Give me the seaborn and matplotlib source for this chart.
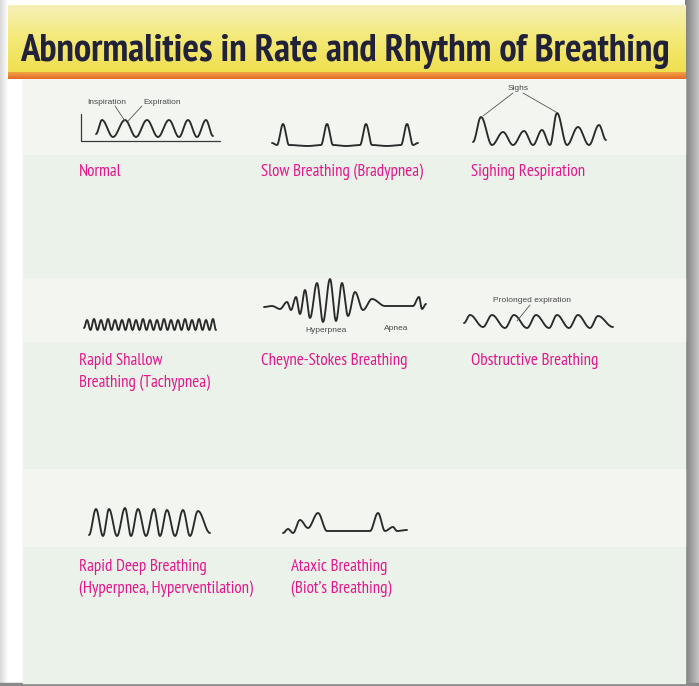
import numpy as np
import pandas as pd
import matplotlib
matplotlib.use("Agg")
import matplotlib.pyplot as plt
import seaborn as sns

sns.set_theme(style="white")
plt.rcParams['font.family'] = ['PT Sans Narrow', 'DejaVu Sans']

# ---------------- data ----------------
TITLE = "Abnormalities in Rate and Rhythm of Breathing"

labels = {
    "normal": ["Normal"],
    "slow": ["Slow Breathing (Bradypnea)"],
    "sigh": ["Sighing Respiration"],
    "shallow": ["Rapid Shallow", "Breathing (Tachypnea)"],
    "cheyne": ["Cheyne-Stokes Breathing"],
    "obstr": ["Obstructive Breathing"],
    "deep": ["Rapid Deep Breathing", "(Hyperpnea, Hyperventilation)"],
    "ataxic": ["Ataxic Breathing", "(Biot\u2019s Breathing)"],
}

# waveform extremes: t = horizontal offset (px), v = height above baseline (px)
normal_t = [0, 6, 17, 29, 40, 51, 62, 73, 83, 92, 101, 110, 117]
normal_v = [3, 17, 0, 17, 0, 17, 0, 17, 0, 17, 0, 17, 1]

slow_t = [0, 5, 11, 17, 36, 49, 55, 61, 74, 88, 94, 100, 115, 129, 135, 141, 146]
slow_v = [2, 0, 21, 0, -1, 0, 21, 0, -1, 0, 21, 0, -1, 0, 21, 0, 2]

sigh_t = [0, 8, 19, 30, 40, 51, 60, 69, 77, 84, 94, 105, 116, 126, 133]
sigh_v = [3, 28, 0, 13, 0, 14, 0, 15, 0, 32, 0, 18, 0, 20, 5]

shallow_t = [0, 3, 6.5, 10, 13.5, 17, 20.5, 24, 27.5, 31, 34.5, 38, 41.5, 45, 48.5,
             52, 55.5, 59, 62.5, 66, 69.5, 73, 76.5, 80, 83.5, 87, 90.5, 94, 97.5,
             101, 104.5, 108, 111.5, 115, 118.5, 122, 125.5, 129, 132]
shallow_v = [2, 10, 0, 11, 0, 10, 0, 11, 0, 10, 0, 10, 0, 11, 0, 10, 0, 11, 0, 10,
             0, 10, 0, 11, 0, 10, 0, 10, 0, 11, 0, 10, 0, 11, 0, 10, 0, 11, 0]

cheyne_t = [0, 8, 16, 23, 27, 32, 36, 41, 46, 53, 59, 66, 72, 78, 84, 91, 99,
            108, 121, 149, 155, 158, 162]
cheyne_v = [0, 1, -2, 5, -3, 10, -7, 17, -11, 24, -15, 28, -14, 24, -9, 15, -3,
            8, 1, 1, 10, -2, 3]

obstr_t = [0, 6, 19, 28, 41, 50, 63, 72, 85, 93, 105, 114, 126, 134, 149]
obstr_v = [5, 13, 1, 13, 0, 13, 0, 13, 0, 13, 0, 13, 0, 12, 1]

deep_t = [0, 7, 14, 20, 28, 36, 42, 49, 57, 65, 71, 78, 86, 94, 101, 109, 121]
deep_v = [1, 27, 0, 27, 0, 28, 0, 27, 0, 27, 0, 26, 0, 26, 0, 25, 3]

ataxic_t = [0, 5, 10, 17, 25, 35, 44, 87, 95, 102, 110, 114, 124]
ataxic_v = [0, 4, 0, 13, 5, 20, 2, 2, 20, 2, 6, 2, 3]

# ---------------- layout ----------------
W, H = 699, 686
fig = plt.figure(figsize=(W / 100, H / 100), dpi=100)
ax = fig.add_axes([0, 0, 1, 1])
ax.set_xlim(0, W)
ax.set_ylim(H, 0)
ax.axis("off")
LSC = matplotlib.colors.LinearSegmentedColormap

ax.add_patch(plt.Rectangle((0, 0), W, H, color="white", zorder=0))
grad = np.linspace(0, 1, 50).reshape(1, -1)
ax.imshow(grad, extent=(0, 8, H, 0), cmap=LSC.from_list("l", ["#d8d8d8", "#ffffff"]),
          aspect="auto", zorder=0.5)
ax.imshow(grad, extent=(685, W, H, 0), cmap=LSC.from_list("r", ["#7f7f7f", "#c4c4c4"]),
          aspect="auto", zorder=0.5)
ax.add_patch(plt.Rectangle((0, 683), W, 3, color="#8a8a8a", zorder=0.6))
ax.add_patch(plt.Rectangle((23, 78), 662, 605, color="#ebf2ea", zorder=1))
for y0, y1 in [(78, 154), (278, 341), (469, 546)]:
    ax.add_patch(plt.Rectangle((23, y0), 662, y1 - y0, color="#f3f5f1", zorder=1.1))
vgrad = np.linspace(0, 1, 60).reshape(-1, 1)
ax.imshow(vgrad, extent=(8, 686, 72, 5),
          cmap=LSC.from_list("y", ["#f6f0b8", "#f3e977", "#f0df50"]),
          aspect="auto", zorder=1.2, origin="upper")
ax.imshow(vgrad, extent=(8, 686, 79, 72),
          cmap=LSC.from_list("o", ["#f2a443", "#e4682a"]),
          aspect="auto", zorder=1.3, origin="upper")

# title (fit to measured width)
t = ax.text(345, 61, TITLE, ha="center", va="baseline", fontsize=28, fontweight="bold",
            color="#22213a", zorder=5)
fig.canvas.draw()
r = fig.canvas.get_renderer()
wpx = t.get_window_extent(r).width
t.set_fontsize(28 * 648 / wpx)

WAVE = dict(color="#2a2a2a", lw=1.35)


def smooth(ts, vs, n=14):
    xs, ys = [], []
    for i in range(len(ts) - 1):
        s = np.linspace(0, 1, n, endpoint=False)
        xs.extend(ts[i] + (ts[i + 1] - ts[i]) * s)
        ys.extend(vs[i] + (vs[i + 1] - vs[i]) * (1 - np.cos(np.pi * s)) / 2)
    xs.append(ts[-1]); ys.append(vs[-1])
    return np.array(xs), np.array(ys)


def draw_wave(ts, vs, x0, base):
    x, v = smooth(ts, vs)
    df = pd.DataFrame({"x": x0 + x, "y": base - v})
    sns.lineplot(data=df, x="x", y="y", sort=False, estimator=None, ax=ax, zorder=4,
                 solid_capstyle="round", **WAVE)


draw_wave(normal_t, normal_v, 96, 137)
draw_wave(slow_t, slow_v, 272, 145)
draw_wave(sigh_t, sigh_v, 473, 145)
draw_wave(shallow_t, shallow_v, 84, 330)
draw_wave(cheyne_t, cheyne_v, 264, 307)
draw_wave(obstr_t, obstr_v, 464, 328)
draw_wave(deep_t, deep_v, 89, 536)
draw_wave(ataxic_t, ataxic_v, 283, 533)

ax.plot([81, 81, 220], [114, 141, 141], color="#3a3a3a", lw=0.9, zorder=4)

small = dict(fontsize=6.0, color="#4a4a4a", family=["Liberation Sans", "DejaVu Sans"], zorder=5,
             ha="center", va="center")
ann = dict(color="#555555", lw=0.6, zorder=4)
ax.text(107, 102, "Inspiration", **small)
ax.text(162, 102, "Expiration", **small)
ax.plot([115, 125], [106, 121], **ann)
ax.plot([142, 128], [106, 121], **ann)
ax.text(518, 88, "Sighs", **small)
ax.plot([513, 483], [93, 116], **ann)
ax.plot([523, 556], [93, 112], **ann)
ax.text(326, 330, "Hyperpnea", **small)
ax.text(396, 329, "Apnea", **small)
ax.text(532, 300, "Prolonged expiration", **small)
ax.plot([530, 517], [305, 321], **ann)

MAG = "#e4168b"
lab = dict(fontsize=12.2, color=MAG, ha="left", va="center", zorder=5)
pos = {
    "normal": (79, 172), "slow": (261, 172), "sigh": (471, 172),
    "shallow": (79, 361), "cheyne": (261, 361), "obstr": (471, 361),
    "deep": (79, 567), "ataxic": (291, 567),
}
for k, lines in labels.items():
    x, y = pos[k]
    for i, s in enumerate(lines):
        ax.text(x, y + 21.5 * i, s, **lab)

fig.savefig("out.png", dpi=100)
